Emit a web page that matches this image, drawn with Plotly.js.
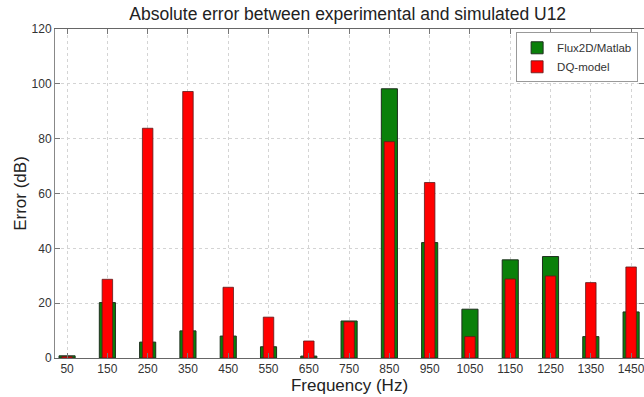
<!DOCTYPE html>
<html>
<head>
<meta charset="utf-8">
<script src="https://cdn.plot.ly/plotly-3.0.1.min.js"></script>
<style>html,body{margin:0;padding:0;background:#fff;}#chart{width:644px;height:397px;}</style>
</head>
<body>
<div id="chart"></div>
<script>
const frequencies = [50, 150, 250, 350, 450, 550, 650, 750, 850, 950, 1050, 1150, 1250, 1350, 1450];
const fluxMatlab = [0.8, 20.2, 5.8, 9.9, 8.0, 4.1, 0.7, 13.5, 98.2, 42.1, 17.8, 35.8, 37.0, 7.8, 16.8];
const dqModel = [0.5, 28.7, 83.8, 97.2, 25.8, 14.9, 6.2, 13.2, 78.9, 64.0, 7.8, 28.8, 29.9, 27.5, 33.2];
const tickLabels = frequencies.map(String);
const yTicks = [0, 20, 40, 60, 80, 100, 120];

const fontFam = 'Arial, "Liberation Sans", Helvetica, sans-serif';

const traces = [
  {
    type: 'bar', name: 'Flux2D/Matlab', x: frequencies, y: fluxMatlab, width: 40,
    marker: {color: '#0a800a', line: {color: '#1e2e1e', width: 1}}
  },
  {
    type: 'bar', name: 'DQ-model', x: frequencies, y: dqModel, width: 26,
    marker: {color: '#ff0000', line: {color: '#5a1a1a', width: 0.8}}
  }
];

const layout = {
  width: 644, height: 397,
  margin: {l: 55, r: 0, t: 29, b: 39},
  paper_bgcolor: '#fff', plot_bgcolor: '#fff',
  barmode: 'overlay',
  showlegend: true,
  font: {family: fontFam, color: '#333'},
  title: {text: 'Absolute error between experimental and simulated U12', font: {size: 17.5, color: '#222', family: fontFam}, x: 0.497, xanchor: 'center', y: 0.965, yanchor: 'middle', xref: 'paper'},
  xaxis: {
    range: [20, 1482], tickvals: frequencies, ticktext: tickLabels,
    ticks: 'inside', ticklen: 5, tickcolor: '#777', tickfont: {size: 12, color: '#333'},
    ticklabeloverflow: 'allow',
    showgrid: true, gridcolor: '#d4d4d4', griddash: 'dot', gridwidth: 1,
    showline: true, linecolor: '#666', linewidth: 1, mirror: 'ticks',
    zeroline: false, fixedrange: true,
    title: {text: 'Frequency (Hz)', font: {size: 17, color: '#222'}, standoff: 2}
  },
  yaxis: {
    range: [0, 120], tickvals: yTicks, ticktext: yTicks.map(String),
    ticks: 'inside', ticklen: 5, tickcolor: '#777', tickfont: {size: 12, color: '#333'},
    showgrid: true, gridcolor: '#d4d4d4', griddash: 'dot', gridwidth: 1,
    showline: true, linecolor: '#888', linewidth: 1, mirror: 'ticks',
    zeroline: false, fixedrange: true,
    title: {text: 'Error (dB)', font: {size: 17, color: '#222'}, standoff: 0}
  },
  legend: {
    x: 0.99, y: 0.99, xanchor: 'right', yanchor: 'top',
    bgcolor: '#fff', bordercolor: '#999', borderwidth: 1,
    font: {size: 11.5, color: '#333'}, itemwidth: 30, tracegroupgap: 0,
    traceorder: 'normal'
  }
};

Plotly.newPlot('chart', traces, layout, {staticPlot: true, displayModeBar: false});
</script>
</body>
</html>
